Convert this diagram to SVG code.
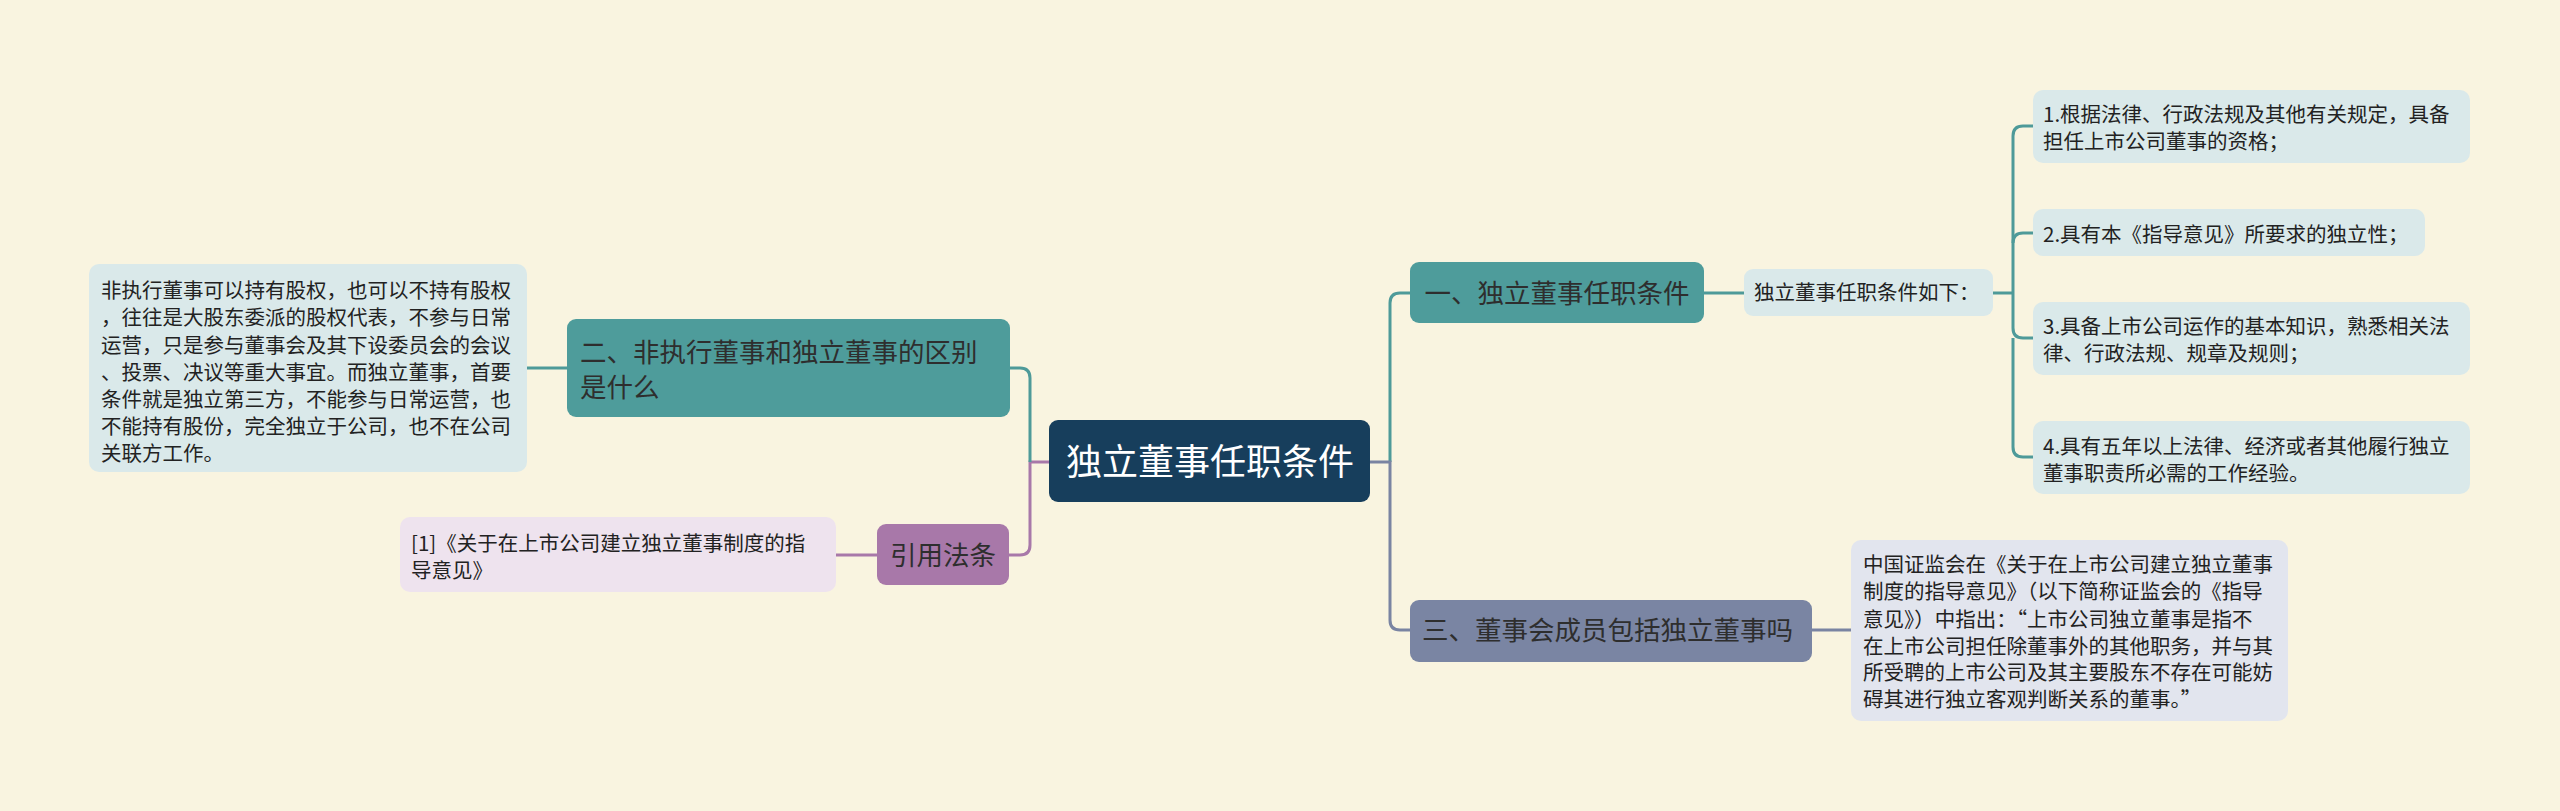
<svg xmlns="http://www.w3.org/2000/svg" width="2560" height="811" viewBox="0 0 2560 811">
<style>
text{font-family:"Noto Sans CJK SC","Noto Sans",sans-serif;}
.leaf{font-size:20.5px;fill:#222;}
.mid{font-size:26.5px;fill:#2e2e2e;}
.root{font-size:36px;fill:#fff;}
.c{fill:none;stroke-width:3;}
.ct{stroke:#4e9a99;}
.cp{stroke:#a878a9;}
.cs{stroke:#7a84a2;}
</style>
<rect width="2560" height="811" fill="#f9f4e0"/>
<g id="connectors">
<path class="c cp" d="M1049,462 H1030 V545 Q1030,555 1020,555 H1009"/>
<path class="c ct" d="M1030,462 V378 Q1030,368 1020,368 H1010"/>
<path class="c ct" d="M567,368 H527"/>
<path class="c cp" d="M877,555 H836"/>
<path class="c ct" d="M1390,462 V303 Q1390,293 1400,293 H1410"/>
<path class="c cs" d="M1370,462 H1390 V620 Q1390,630 1400,630 H1410"/>
<path class="c ct" d="M1704,293 H1744"/>
<path class="c ct" d="M1993,293 H2013"/>
<path class="c ct" d="M2013,293 V136 Q2013,126 2023,126 H2033"/>
<path class="c ct" d="M2013,243 Q2013,233 2023,233 H2033"/>
<path class="c ct" d="M2013,293 V328 Q2013,338 2023,338 H2033"/>
<path class="c ct" d="M2013,338 V447 Q2013,457 2023,457 H2033"/>
<path class="c cs" d="M1812,630 H1851"/>
</g>
<g id="root">
<rect x="1049" y="420" width="321" height="82" rx="9" fill="#173e5c"/>
<text class="root" x="1210" y="475" text-anchor="middle">独立董事任职条件</text>
</g>
<g id="n2">
<rect x="567" y="319" width="443" height="98" rx="9" fill="#4e9c9b"/>
<text class="mid" x="580" y="362">二、非执行董事和独立董事的区别</text>
<text class="mid" x="580" y="397">是什么</text>
</g>
<g id="n2leaf">
<rect x="89" y="264" width="438" height="208" rx="10" fill="#dae9ea"/>
<text class="leaf" x="101" y="298">非执行董事可以持有股权，也可以不持有股权<tspan x="101" dy="27">，往往是大股东委派的股权代表，不参与日常</tspan><tspan x="101" dy="27.5">运营，只是参与董事会及其下设委员会的会议</tspan><tspan x="101" dy="27">、投票、决议等重大事宜。而独立董事，首要</tspan><tspan x="101" dy="27.5">条件就是独立第三方，不能参与日常运营，也</tspan><tspan x="101" dy="27">不能持有股份，完全独立于公司，也不在公司</tspan><tspan x="101" dy="27">关联方工作。</tspan></text>
</g>
<g id="ref">
<rect x="877" y="524" width="132" height="61" rx="9" fill="#a878a9"/>
<text class="mid" x="943" y="565" text-anchor="middle">引用法条</text>
</g>
<g id="refleaf">
<rect x="400" y="517" width="436" height="75" rx="10" fill="#eee3ee"/>
<text class="leaf" x="411" y="551">[1]《关于在上市公司建立独立董事制度的指<tspan x="411" dy="27">导意见》</tspan></text>
</g>
<g id="n1">
<rect x="1410" y="262" width="294" height="61" rx="9" fill="#4e9c9b"/>
<text class="mid" x="1557" y="303" text-anchor="middle">一、独立董事任职条件</text>
</g>
<g id="n1child">
<rect x="1744" y="269" width="249" height="47" rx="9" fill="#dae9ea"/>
<text class="leaf" x="1754" y="300">独立董事任职条件如下：</text>
</g>
<g id="r1">
<rect x="2033" y="90" width="437" height="73" rx="10" fill="#dae9ea"/>
<text class="leaf" x="2043" y="122">1.根据法律、行政法规及其他有关规定，具备<tspan x="2043" dy="27">担任上市公司董事的资格；</tspan></text>
</g>
<g id="r2">
<rect x="2033" y="209" width="392" height="47" rx="10" fill="#dae9ea"/>
<text class="leaf" x="2043" y="242">2.具有本《指导意见》所要求的独立性；</text>
</g>
<g id="r3">
<rect x="2033" y="302" width="437" height="73" rx="10" fill="#dae9ea"/>
<text class="leaf" x="2043" y="334">3.具备上市公司运作的基本知识，熟悉相关法<tspan x="2043" dy="27">律、行政法规、规章及规则；</tspan></text>
</g>
<g id="r4">
<rect x="2033" y="421" width="437" height="73" rx="10" fill="#dae9ea"/>
<text class="leaf" x="2043" y="454">4.具有五年以上法律、经济或者其他履行独立<tspan x="2043" dy="27">董事职责所必需的工作经验。</tspan></text>
</g>
<g id="n3">
<rect x="1410" y="600" width="402" height="62" rx="9" fill="#7a85a3"/>
<text class="mid" x="1422" y="640">三、董事会成员包括独立董事吗</text>
</g>
<g id="n3leaf">
<rect x="1851" y="540" width="437" height="181" rx="10" fill="#e2e5ee"/>
<text class="leaf" x="1863" y="572">中国证监会在《关于在上市公司建立独立董事<tspan x="1863" dy="27">制度的指导意见》（以下简称证监会的《指导</tspan><tspan x="1863" dy="27.5">意见》）中指出：“上市公司独立董事是指不</tspan><tspan x="1863" dy="27">在上市公司担任除董事外的其他职务，并与其</tspan><tspan x="1863" dy="26.5">所受聘的上市公司及其主要股东不存在可能妨</tspan><tspan x="1863" dy="27">碍其进行独立客观判断关系的董事。”</tspan></text>
</g>
</svg>
